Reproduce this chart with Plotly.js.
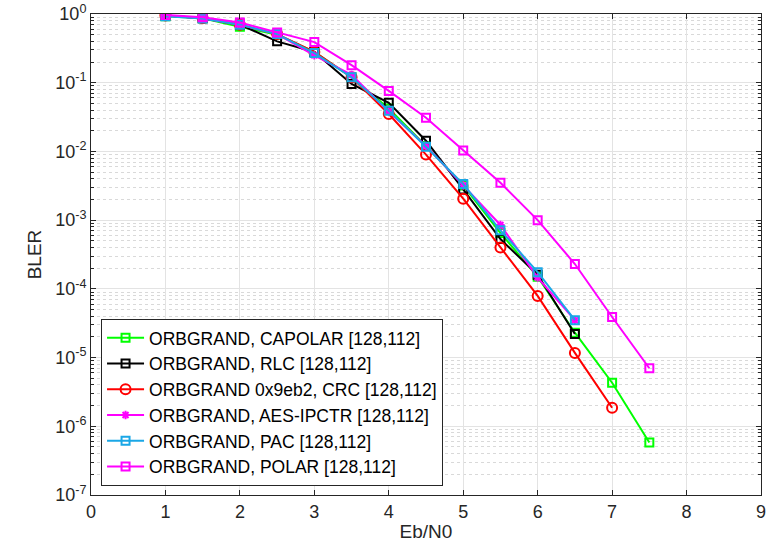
<!DOCTYPE html>
<html>
<head>
<meta charset="utf-8">
<script src="https://cdn.plot.ly/plotly-3.0.1.min.js"></script>
<style>html,body{margin:0;padding:0;background:#fff;}#chart{width:776px;height:554px;}</style>
</head>
<body>
<div id="chart"></div>
<script>
// Eb/N0 values (dB)
const ebn0 = [1, 1.5, 2, 2.5, 3, 3.5, 4, 4.5, 5, 5.5, 6, 6.5, 7, 7.5];

// BLER per scheme
const capolar = [0.93, 0.87, 0.65, 0.50, 0.28, 0.12, 0.042, 0.012, 3.2e-3, 6.5e-4, 1.5e-4, 2.3e-5, 4.3e-6, 5.8e-7];
const rlc     = [0.95, 0.87, 0.70, 0.40, 0.28, 0.096, 0.051, 0.0143, 2.8e-3, 5.3e-4, 1.6e-4, 2.2e-5];
const crc     = [0.95, 0.87, 0.70, 0.51, 0.28, 0.12, 0.035, 0.009, 2.05e-3, 4.0e-4, 7.9e-5, 1.17e-5, 1.86e-6];
const aes     = [0.95, 0.87, 0.70, 0.51, 0.25, 0.13, 0.038, 0.012, 3.2e-3, 8.5e-4, 1.46e-4, 3.5e-5];
const pac     = [0.93, 0.86, 0.70, 0.51, 0.27, 0.12, 0.039, 0.0117, 3.35e-3, 7.1e-4, 1.75e-4, 3.5e-5];
const polar   = [0.97, 0.90, 0.75, 0.54, 0.39, 0.18, 0.076, 0.031, 0.0103, 3.5e-3, 1.0e-3, 2.3e-4, 3.9e-5, 7.0e-6];

const names = [
  'ORBGRAND, CAPOLAR [128,112]',
  'ORBGRAND, RLC [128,112]',
  'ORBGRAND 0x9eb2, CRC [128,112]',
  'ORBGRAND, AES-IPCTR [128,112]',
  'ORBGRAND, PAC [128,112]',
  'ORBGRAND, POLAR [128,112]'
];

const yTickVals = [1, 1e-1, 1e-2, 1e-3, 1e-4, 1e-5, 1e-6, 1e-7];
const yTickText = ['10<sup>0</sup>','10<sup>-1</sup>','10<sup>-2</sup>','10<sup>-3</sup>','10<sup>-4</sup>','10<sup>-5</sup>','10<sup>-6</sup>','10<sup>-7</sup>'];

function tr(y, name, color, symbol, size) {
  return {
    x: ebn0.slice(0, y.length), y: y, name: name, type: 'scatter', mode: 'lines+markers',
    line: {color: color, width: 2},
    marker: {symbol: symbol, size: size, color: color, line: {color: color, width: 2}}
  };
}

const data = [
  tr(capolar, names[0], '#00ff00', 'square-open', 8),
  tr(rlc, names[1], '#000000', 'square-open', 8),
  tr(crc, names[2], '#ff0000', 'circle-open', 10),
  tr(aes, names[3], '#ff00ff', 'asterisk-open', 7),
  tr(pac, names[4], '#1aa7e6', 'square-open', 8),
  tr(polar, names[5], '#ff00ff', 'square-open', 8)
];

const font = 'Liberation Sans, Arial, Helvetica, sans-serif';

const layout = {
  width: 776, height: 554,
  margin: {l: 91, r: 15, t: 14, b: 59},
  paper_bgcolor: '#fff', plot_bgcolor: '#fff',
  font: {family: font, color: '#262626', size: 18},
  showlegend: true,
  legend: {
    x: 0.015, y: 0.019, xanchor: 'left', yanchor: 'bottom',
    bgcolor: '#fff', bordercolor: '#262626', borderwidth: 1,
    font: {family: font, size: 17.5, color: '#000'},
    itemwidth: 37, tracegroupgap: 0
  },
  xaxis: {
    range: [0, 9], tickvals: [0,1,2,3,4,5,6,7,8,9],
    ticks: 'inside', ticklen: 5, tickcolor: '#262626',
    showline: true, linecolor: '#262626', linewidth: 1, mirror: 'ticks',
    showgrid: true, gridcolor: '#e3e3e3', gridwidth: 1, zeroline: false,
    title: {text: 'Eb/N0', font: {family: font, size: 19, color: '#262626'}, standoff: 4},
    tickfont: {family: font, size: 18, color: '#262626'}
  },
  yaxis: {
    type: 'log', range: [-7, 0],
    tickvals: yTickVals, ticktext: yTickText,
    ticks: 'inside', ticklen: 5, tickcolor: '#262626',
    showline: true, linecolor: '#262626', linewidth: 1, mirror: 'ticks',
    showgrid: true, gridcolor: '#e3e3e3', gridwidth: 1, zeroline: false,
    minor: {ticks: 'inside', ticklen: 3, tickcolor: '#262626', showgrid: true, gridcolor: '#d9d9d9', griddash: 'dot', dtick: 'D1'},
    title: {text: 'BLER', font: {family: font, size: 19, color: '#262626'}, standoff: 8},
    tickfont: {family: font, size: 18, color: '#262626'}
  }
};

Plotly.newPlot('chart', data, layout, {displayModeBar: false, staticPlot: true});
</script>
</body>
</html>
